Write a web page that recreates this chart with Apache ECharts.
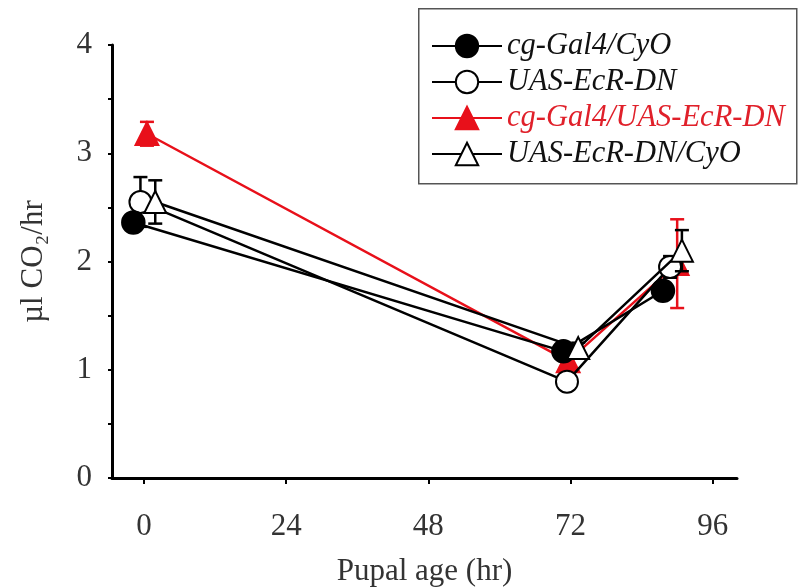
<!DOCTYPE html>
<html><head><meta charset="utf-8">
<script src="https://cdn.jsdelivr.net/npm/echarts@6/dist/echarts.min.js"></script>
<style>html,body{margin:0;padding:0;background:#fff}#c{width:799px;height:588px}</style>
</head><body><div id="c"></div>
<script>
// Data: [pupal age (hr), µl CO2/hr]
var names = ['cg-Gal4/CyO', 'UAS-EcR-DN', 'cg-Gal4/UAS-EcR-DN', 'UAS-EcR-DN/CyO'];
var gal4CyO = [[-1.8, 2.36], [70.8, 1.17], [87.6, 1.73]];
var gal4CyOErr = [0.04, 0.04, 0.04];
var uasDN = [[-0.6, 2.55], [71.4, 0.89], [88.8, 1.95]];
var uasDNErr = [0.23, 0.05, 0.1];
var gal4DN = [[0.5, 3.18], [71.6, 1.08], [90.0, 1.98]];
var gal4DNErr = [0.11, 0.06, 0.41];
var uasDNCyO = [[1.9, 2.55], [73.3, 1.20], [90.8, 2.10]];
var uasDNCyOErr = [0.2, 0.05, 0.19];
var xTicks = [0, 24, 48, 72, 96];
var yTicks = [0, 1, 2, 3, 4];

var serif = '"Liberation Serif", "Times New Roman", serif';

function errData(pts, err) {
  return pts.map(function (p, i) { return [p[0], p[1] - err[i], p[1] + err[i]]; });
}
function errSeries(pts, err, color, z) {
  return {
    type: 'custom', z: z, silent: true,
    data: errData(pts, err),
    renderItem: function (params, api) {
      var x = api.value(0);
      var lo = api.coord([x, api.value(1)]);
      var hi = api.coord([x, api.value(2)]);
      var w = 7;
      var st = { stroke: color, lineWidth: 2.5 };
      return { type: 'group', children: [
        { type: 'line', shape: { x1: lo[0], y1: lo[1], x2: hi[0], y2: hi[1] }, style: st },
        { type: 'line', shape: { x1: lo[0] - w, y1: lo[1], x2: lo[0] + w, y2: lo[1] }, style: st },
        { type: 'line', shape: { x1: hi[0] - w, y1: hi[1], x2: hi[0] + w, y2: hi[1] }, style: st }
      ]};
    }
  };
}
function lineSeries(name, pts, color, symbol, size, z) {
  return {
    name: name, type: 'line', data: pts, z: z,
    symbol: symbol, symbolSize: size, showSymbol: true,
    lineStyle: { color: color, width: 2.5 },
    itemStyle: { color: color, borderColor: color, borderWidth: 2.5 },
    emphasis: { disabled: true }, animation: false
  };
}

var chart = echarts.init(document.getElementById('c'), null, { renderer: 'canvas' });
chart.setOption({
  animation: false,
  grid: { left: 112, right: 62, top: 45, bottom: 110, containLabel: false, outerBoundsMode: 'none' },
  graphic: [{
    type: 'rect', left: 418, top: 8, z: 0,
    shape: { width: 378, height: 175 },
    style: { fill: '#fff', stroke: '#555', lineWidth: 1.5 }
  }],
  legend: {
    left: 426, top: 26, orient: 'vertical',
    itemWidth: 70, itemHeight: 28, itemGap: 6,
    textStyle: { fontFamily: serif, fontStyle: 'italic', fontSize: 30.5, lineHeight: 28, color: '#111', padding: [0, 0, 0, 0] },
    data: [
      { name: names[0] },
      { name: names[1] },
      { name: names[2], textStyle: { color: '#e0202a' } },
      { name: names[3] }
    ]
  },
  xAxis: {
    type: 'value', min: -5.4, max: 100.1,
    interval: 24,
    axisLine: { show: true, onZero: false, lineStyle: { color: '#000', width: 3 } },
    axisTick: { show: true, length: 6, lineStyle: { color: '#000', width: 2 },
      customValues: xTicks },
    axisLabel: { fontFamily: serif, fontSize: 31, color: '#333', margin: 33,
      customValues: xTicks },
    splitLine: { show: false },
    name: 'Pupal age (hr)', nameLocation: 'middle', nameGap: 78,
    nameTextStyle: { fontFamily: serif, fontSize: 31, color: '#333' }
  },
  yAxis: {
    type: 'value', min: 0, max: 4, interval: 0.5,
    axisLine: { show: true, onZero: false, lineStyle: { color: '#000', width: 3 } },
    axisTick: { show: true, length: 4, lineStyle: { color: '#000', width: 2 } },
    axisLabel: { fontFamily: serif, fontSize: 31, color: '#333', margin: 20,
      customValues: yTicks },
    splitLine: { show: false },
    name: 'µl CO₂/hr', nameLocation: 'middle', nameGap: 63,
    nameTextStyle: { fontFamily: serif, fontSize: 31, color: '#333' }
  },
  series: [
    errSeries(gal4DN, gal4DNErr, '#e8101a', 2),
    lineSeries(names[2], gal4DN, '#e8101a', 'triangle', 22, 3),
    errSeries(uasDN, uasDNErr, '#000', 4),
    lineSeries(names[1], uasDN, '#000', 'emptyCircle', 22, 5),
    errSeries(gal4CyO, gal4CyOErr, '#000', 6),
    lineSeries(names[0], gal4CyO, '#000', 'circle', 22, 7),
    errSeries(uasDNCyO, uasDNCyOErr, '#000', 8),
    lineSeries(names[3], uasDNCyO, '#000', 'emptyTriangle', 22, 9)
  ]
});
</script></body></html>
